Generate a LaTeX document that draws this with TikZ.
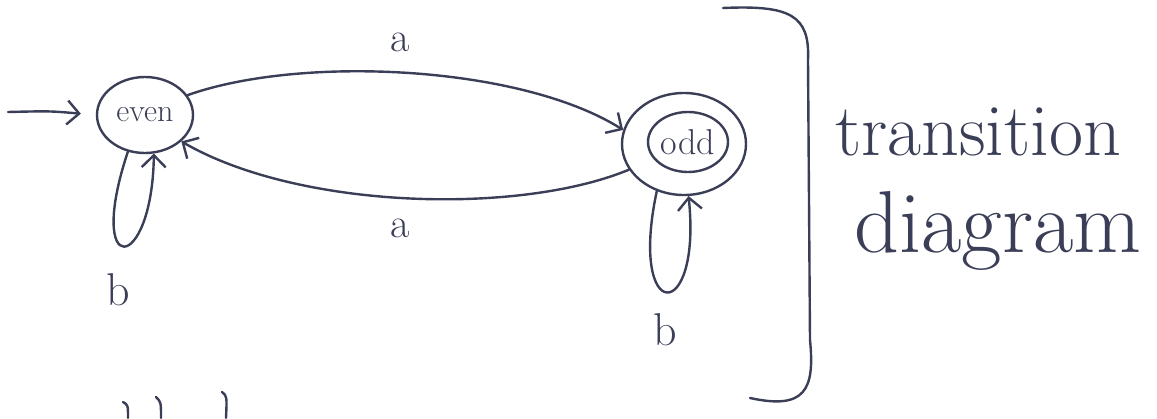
\documentclass[tikz,border=0pt]{standalone}
\usetikzlibrary{arrows.meta,shapes.geometric}
\definecolor{ink}{HTML}{3B3E57}
\tikzset{
  pen/.style={draw=ink, line width=2.4pt, line cap=round, line join=round},
  arr/.style={pen, -{Straight Barb[length=12pt,width=24pt,line width=2.4pt]}},
  state/.style={pen, ellipse, inner sep=0pt, text=ink},
  lbl/.style={text=ink, inner sep=0pt},
}
\begin{document}
\begin{tikzpicture}[x=1pt,y=-1pt]
\useasboundingbox (0,0) rectangle (1157,418);
% states
\node[state, minimum width=96pt, minimum height=76pt, font=\fontsize{32}{32}\selectfont] (even) at (145,115) {even};
\node[state, minimum width=124pt, minimum height=102pt] (odd) at (684,144) {};
\node[state, minimum width=80pt, minimum height=60pt, font=\fontsize{36}{36}\selectfont] (oddin) at (688,142) {odd};
% start arrow
\coordinate (start) at (8,112);
\draw[arr, shorten >=15pt] (start) .. controls (50,111) .. (even.west);
% transitions
\draw[arr] (even.25) .. controls (300,55) and (520,65) .. (odd.167);
\draw[arr] (odd.205) .. controls (520,215) and (300,210) .. (even.324);
% self loops
\draw[arr] (even.245) .. controls (85,280) and (152,275) .. (even.283);
\draw[arr] (odd.240) .. controls (628,325) and (702,325) .. (odd.275);
% labels
\node[lbl, font=\fontsize{42}{42}\selectfont] (a1) at (400,42) {a};
\node[lbl, font=\fontsize{42}{42}\selectfont] (a2) at (400,228) {a};
\node[lbl, font=\fontsize{46}{46}\selectfont] (b1) at (118,290) {b};
\node[lbl, font=\fontsize{46}{46}\selectfont] (b2) at (665,330) {b};
% bracket
\draw[pen] (723,8) .. controls (790,5) and (810,15) .. (808,60)
  -- (810,340) .. controls (815,390) and (805,410) .. (750,398);
% side text
\node[lbl, font=\fontsize{74}{74}\selectfont, anchor=base] (t1) at (978,155) {transition};
\node[lbl, font=\fontsize{88}{88}\selectfont, anchor=base] (t2) at (998,252) {diagram};
% cut-off strokes at the bottom
\draw[pen] (123,402) .. controls (128,405) .. (128,418);
\draw[pen] (156,397) .. controls (161,402) .. (161,418);
\draw[pen] (222,392) .. controls (227,396) .. (226,418);
\end{tikzpicture}
\end{document}
